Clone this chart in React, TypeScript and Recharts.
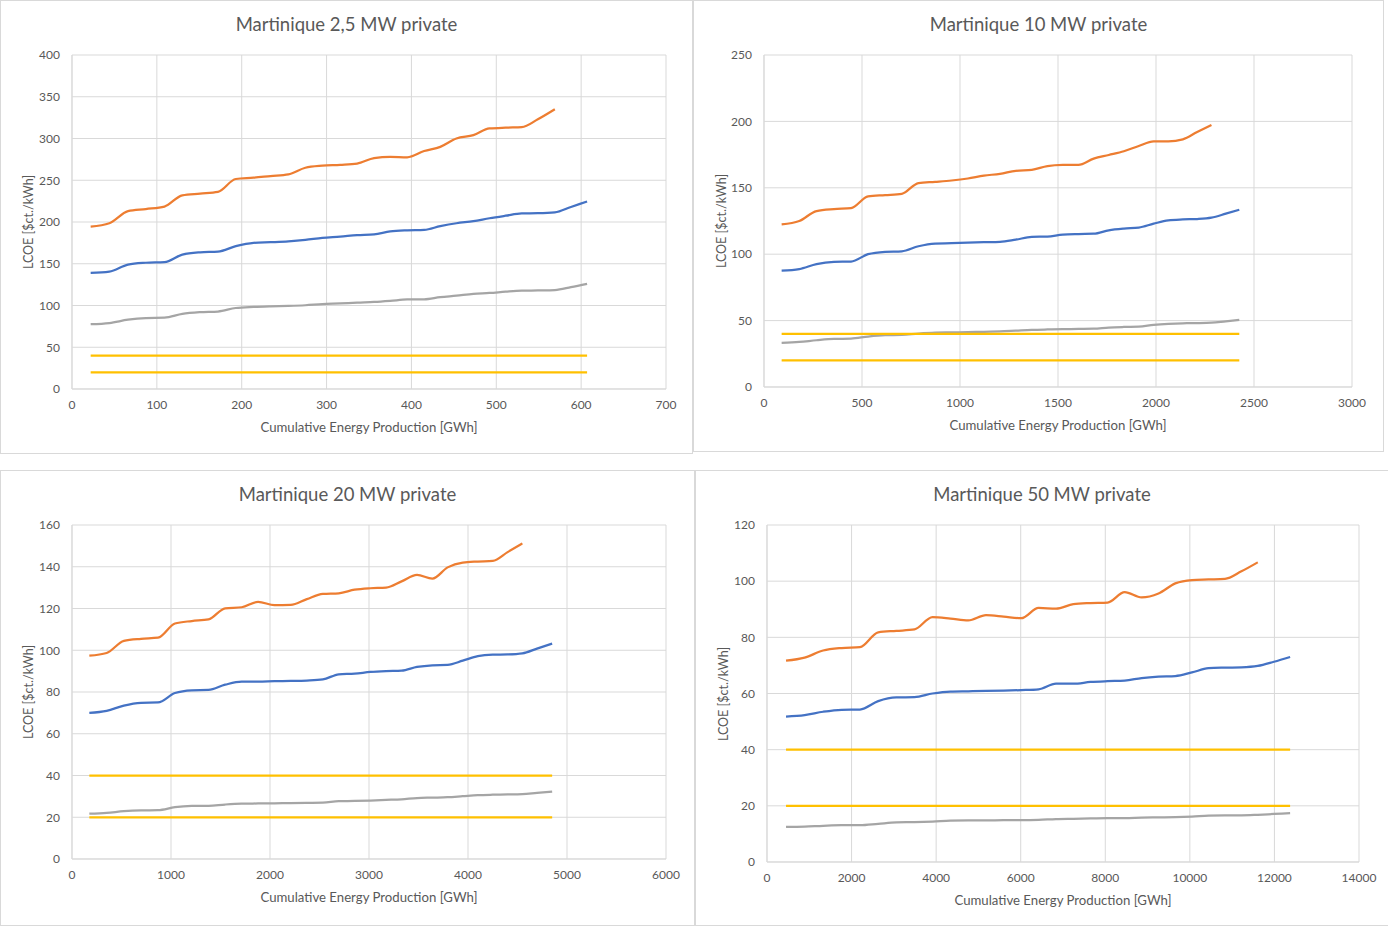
import { LineChart, Line, XAxis, YAxis, CartesianGrid } from "recharts";

// Cumulative energy production [GWh] at each year, per plant size
const P1_X = [22, 44, 66, 87, 109, 130, 151, 172, 193, 214, 234, 255, 275, 295, 316, 336, 356, 375, 395, 415, 434, 453, 473, 492, 511, 530, 549, 569, 588, 607];
const P1_HIGH = [194.5, 198.5, 213, 215.5, 218.5, 232, 234, 236, 251.5, 253, 255, 257, 265, 267.5, 268.5, 270, 276.5, 278, 277.5, 285, 290, 300, 304, 312, 313, 313.5, 323, 335];
const P1_MID = [139, 140.5, 149, 151.2, 152, 161, 163.7, 164.5, 171, 175, 175.8, 176.8, 178.5, 181, 182.5, 184.3, 185.3, 188.7, 190, 190.5, 195, 198.5, 201, 204.5, 207.5, 210.3, 210.5, 211.5, 218, 224.5];
const P1_LOW = [77.7, 79, 83, 85, 85.5, 90, 92, 92.8, 97, 98.3, 99, 99.5, 100.3, 101.7, 102.5, 103.5, 104.2, 105.5, 107.2, 107.4, 110, 111.8, 114, 115, 116.5, 117.7, 118, 118.5, 122, 126];

const P2_X = [90, 180, 268, 357, 444, 531, 618, 703, 788, 873, 957, 1040, 1122, 1204, 1285, 1366, 1446, 1525, 1604, 1682, 1759, 1836, 1912, 1988, 2063, 2137, 2210, 2283, 2356, 2425];
const P2_HIGH = [122.5, 125, 132.5, 134, 134.7, 143.5, 144.5, 145.5, 153.6, 154.5, 155.5, 157, 159.2, 160.5, 162.8, 163.5, 166.3, 167.2, 167.3, 172, 174.7, 177.5, 181.5, 185, 185, 186.5, 192, 197.3];
const P2_MID = [87.6, 88.8, 92.5, 94.2, 94.5, 100, 101.8, 102.2, 106, 108, 108.3, 108.7, 109, 109.3, 111, 113, 113.3, 114.8, 115.2, 115.4, 118, 119.3, 120, 123, 125.5, 126.2, 126.5, 127.5, 130.5, 133.5];
const P2_LOW = [33.2, 33.9, 35.2, 36.2, 36.4, 38, 39, 39.2, 40.2, 40.9, 41.1, 41.3, 41.6, 41.8, 42.4, 43, 43.3, 43.5, 43.7, 43.9, 44.8, 45.2, 45.4, 46.8, 47.6, 48, 48.1, 48.4, 49.5, 50.5];

const P3_X = [175, 350, 524, 697, 869, 1040, 1210, 1379, 1547, 1714, 1880, 2045, 2209, 2372, 2534, 2695, 2855, 3014, 3172, 3329, 3485, 3640, 3794, 3947, 4099, 4250, 4400, 4549, 4697, 4850];
const P3_HIGH = [97.4, 98.7, 104.5, 105.5, 106, 112.8, 114, 114.8, 120.1, 120.6, 123.2, 121.6, 121.7, 124.5, 127, 127.3, 129, 129.7, 130, 133, 136.1, 134.3, 139.7, 142, 142.5, 142.8, 147, 151.2];
const P3_MID = [70, 71, 73.5, 74.8, 75, 79.5, 80.8, 81, 83.5, 85, 85, 85.2, 85.3, 85.5, 86, 88.5, 88.8, 89.6, 90, 90.2, 92, 92.8, 93, 95, 97.2, 97.9, 98, 98.5, 100.8, 103.2];
const P3_LOW = [21.7, 22.1, 22.9, 23.3, 23.4, 24.8, 25.4, 25.5, 26.1, 26.5, 26.6, 26.7, 26.8, 26.9, 27, 27.7, 27.8, 28, 28.3, 28.6, 29.2, 29.4, 29.6, 30.1, 30.6, 30.8, 30.9, 31.1, 31.7, 32.3];

const P4_X = [450, 890, 1328, 1764, 2198, 2630, 3060, 3488, 3914, 4338, 4760, 5179, 5596, 6011, 6424, 6835, 7244, 7651, 8056, 8459, 8860, 9259, 9655, 10049, 10441, 10831, 11219, 11605, 11989, 12371];
const P4_HIGH = [71.7, 72.8, 75.3, 76.2, 76.5, 81.8, 82.3, 82.8, 87.2, 86.7, 86, 87.9, 87.4, 86.8, 90.5, 90.2, 91.8, 92.2, 92.4, 96.1, 94.2, 95.6, 99.2, 100.4, 100.6, 100.8, 103.5, 106.7];
const P4_MID = [51.8, 52.3, 53.5, 54.2, 54.3, 57.3, 58.6, 58.7, 60, 60.7, 60.8, 60.9, 61, 61.2, 61.5, 63.5, 63.5, 64.1, 64.4, 64.6, 65.5, 66, 66.2, 67.5, 69, 69.2, 69.3, 69.8, 71.3, 73];
const P4_LOW = [12.5, 12.6, 12.9, 13.1, 13.1, 13.6, 14.1, 14.2, 14.4, 14.7, 14.8, 14.8, 14.9, 14.9, 15, 15.3, 15.4, 15.5, 15.6, 15.6, 15.8, 15.9, 16, 16.2, 16.5, 16.6, 16.6, 16.8, 17.1, 17.4];

// flat reference levels [$ct./kWh]
const BENCH_UPPER = 40;
const BENCH_LOWER = 20;

const P1_X_TICKS = [0, 100, 200, 300, 400, 500, 600, 700];
const P1_Y_TICKS = [0, 50, 100, 150, 200, 250, 300, 350, 400];
const P2_X_TICKS = [0, 500, 1000, 1500, 2000, 2500, 3000];
const P2_Y_TICKS = [0, 50, 100, 150, 200, 250];
const P3_X_TICKS = [0, 1000, 2000, 3000, 4000, 5000, 6000];
const P3_Y_TICKS = [0, 20, 40, 60, 80, 100, 120, 140, 160];
const P4_X_TICKS = [0, 2000, 4000, 6000, 8000, 10000, 12000, 14000];
const P4_Y_TICKS = [0, 20, 40, 60, 80, 100, 120];

const FONT = "Lato, 'Open Sans', sans-serif";
const TEXT = "#595959";
const GRID = "#d9d9d9";
const ORANGE = "#ed7d31";
const BLUE = "#4472c4";
const GRAY = "#a5a5a5";
const YELLOW = "#ffc000";

const Y_AXIS_W = 50;
const X_AXIS_H = 30;

type Box = { x: number; y: number; w: number; h: number };
type Plot = { l: number; t: number; r: number; b: number };

const toPoints = (xs: number[], ys: number[]) => ys.map((y, i) => ({ x: xs[i], y }));

function Panel(props: {
  title: string;
  box: Box;
  plot: Plot;
  xs: number[];
  high: number[];
  mid: number[];
  low: number[];
  xTicks: number[];
  yTicks: number[];
}) {
  const { title, box, plot, xs, high, mid, low, xTicks, yTicks } = props;
  const margin = {
    left: plot.l - box.x - Y_AXIS_W,
    top: plot.t - box.y,
    right: box.x + box.w - plot.r,
    bottom: box.y + box.h - plot.b - X_AXIS_H,
  };
  const xMax = xTicks[xTicks.length - 1];
  const yMax = yTicks[yTicks.length - 1];
  const upper = xs.map((x) => ({ x, y: BENCH_UPPER }));
  const lower = xs.map((x) => ({ x, y: BENCH_LOWER }));
  const plotCy = (plot.t + plot.b) / 2 - box.y;

  return (
    <div style={{ position: "absolute", left: box.x, top: box.y, width: box.w, height: box.h }}>
      <div
        style={{
          position: "absolute",
          inset: 0,
          border: "1px solid #d9d9d9",
          boxSizing: "border-box",
        }}
      />
      <div style={{ position: "absolute", left: 0, top: 0 }}>
        <LineChart width={box.w} height={box.h} margin={margin}>
          <CartesianGrid stroke={GRID} strokeWidth={1} />
          <XAxis
            type="number"
            dataKey="x"
            domain={[0, xMax]}
            ticks={xTicks}
            interval={0}
            height={X_AXIS_H}
            axisLine={{ stroke: GRID }}
            tickLine={false}
            tickMargin={5}
            tick={{ fill: TEXT, fontSize: 12, fontFamily: FONT }}
          />
          <YAxis
            type="number"
            domain={[0, yMax]}
            ticks={yTicks}
            interval={0}
            width={Y_AXIS_W}
            axisLine={{ stroke: GRID }}
            tickLine={false}
            tickMargin={6}
            tick={{ fill: TEXT, fontSize: 12, fontFamily: FONT }}
          />
          <Line data={toPoints(xs, high)} dataKey="y" name="High" type="monotone" stroke={ORANGE} strokeWidth={2.25} dot={false} isAnimationActive={false} />
          <Line data={toPoints(xs, mid)} dataKey="y" name="Base" type="monotone" stroke={BLUE} strokeWidth={2.25} dot={false} isAnimationActive={false} />
          <Line data={toPoints(xs, low)} dataKey="y" name="Low" type="monotone" stroke={GRAY} strokeWidth={2.25} dot={false} isAnimationActive={false} />
          <Line data={upper} dataKey="y" name="Benchmark 40" type="linear" stroke={YELLOW} strokeWidth={2.25} dot={false} isAnimationActive={false} />
          <Line data={lower} dataKey="y" name="Benchmark 20" type="linear" stroke={YELLOW} strokeWidth={2.25} dot={false} isAnimationActive={false} />
        </LineChart>
      </div>
      <div
        style={{
          position: "absolute",
          left: 0,
          width: box.w,
          top: 13,
          lineHeight: "22px",
          fontSize: 18.5,
          fontFamily: FONT,
          color: TEXT,
          textAlign: "center",
        }}
      >
        {title}
      </div>
      <div
        style={{
          position: "absolute",
          left: plot.l - box.x,
          width: plot.r - plot.l,
          top: plot.b - box.y + 30,
          lineHeight: "16px",
          fontSize: 13.2,
          fontFamily: FONT,
          color: TEXT,
          textAlign: "center",
        }}
      >
        Cumulative Energy Production [GWh]
      </div>
      <div
        style={{
          position: "absolute",
          left: 28,
          top: plotCy,
          transform: "translate(-50%, -50%) rotate(-90deg)",
          whiteSpace: "nowrap",
          fontSize: 12.5,
          fontFamily: FONT,
          color: TEXT,
        }}
      >
        LCOE [$ct./kWh]
      </div>
    </div>
  );
}

export default function App() {
  return (
    <div
      style={{
        position: "absolute",
        left: 0,
        top: 0,
        width: 1388,
        height: 926,
        background: "#ffffff",
        overflow: "hidden",
      }}
    >
      <Panel
        title="Martinique 2,5 MW private"
        box={{ x: 0, y: 0, w: 693, h: 454 }}
        plot={{ l: 72, t: 55, r: 666, b: 389 }}
        xs={P1_X}
        high={P1_HIGH}
        mid={P1_MID}
        low={P1_LOW}
        xTicks={P1_X_TICKS}
        yTicks={P1_Y_TICKS}
      />
      <Panel
        title="Martinique 10 MW private"
        box={{ x: 693, y: 0, w: 691, h: 452 }}
        plot={{ l: 764, t: 55, r: 1352, b: 387 }}
        xs={P2_X}
        high={P2_HIGH}
        mid={P2_MID}
        low={P2_LOW}
        xTicks={P2_X_TICKS}
        yTicks={P2_Y_TICKS}
      />
      <Panel
        title="Martinique 20 MW private"
        box={{ x: 0, y: 470, w: 695, h: 456 }}
        plot={{ l: 72, t: 525, r: 666, b: 859 }}
        xs={P3_X}
        high={P3_HIGH}
        mid={P3_MID}
        low={P3_LOW}
        xTicks={P3_X_TICKS}
        yTicks={P3_Y_TICKS}
      />
      <Panel
        title="Martinique 50 MW private"
        box={{ x: 695, y: 470, w: 694, h: 456 }}
        plot={{ l: 767, t: 525, r: 1359, b: 862 }}
        xs={P4_X}
        high={P4_HIGH}
        mid={P4_MID}
        low={P4_LOW}
        xTicks={P4_X_TICKS}
        yTicks={P4_Y_TICKS}
      />
    </div>
  );
}
